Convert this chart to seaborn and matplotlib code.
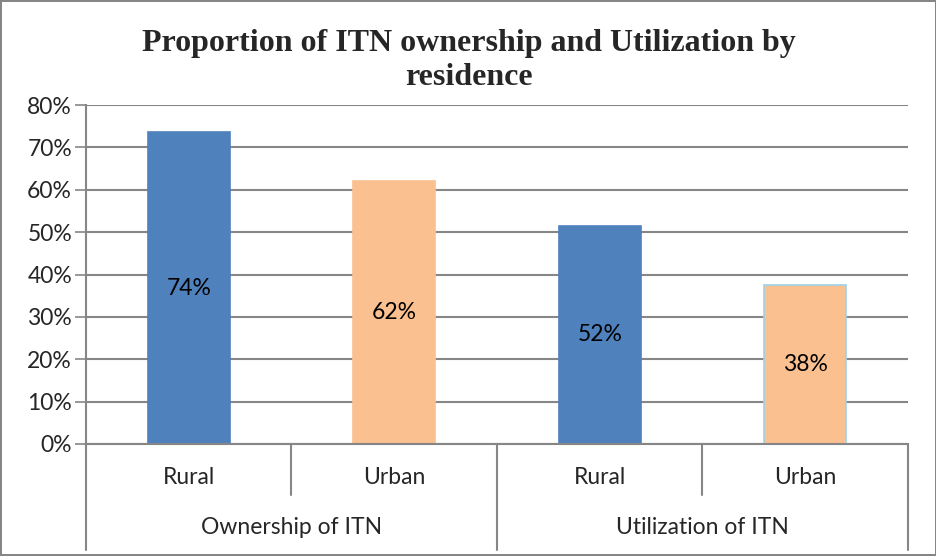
import numpy as np
import pandas as pd
import seaborn as sns
import matplotlib.pyplot as plt
import matplotlib.transforms as mtransforms

# chart data
groups = ["Ownership of ITN", "Ownership of ITN", "Utilization of ITN", "Utilization of ITN"]
residence = ["Rural", "Urban", "Rural", "Urban"]
proportion = [0.736, 0.620, 0.515, 0.375]
bar_labels = ["74%", "62%", "52%", "38%"]
y_ticks = [0.0, 0.1, 0.2, 0.3, 0.4, 0.5, 0.6, 0.7, 0.8]

df = pd.DataFrame({"group": groups, "residence": residence, "value": proportion})
df["key"] = df["group"] + "|" + df["residence"]

sns.set_theme(style="white")
plt.rcParams["font.family"] = ["Lato", "DejaVu Sans"]
FS = 16.5

fig = plt.figure(figsize=(9.37, 5.56), dpi=100)
fig.patch.set_edgecolor("#868686")
fig.patch.set_linewidth(1.5)
ax = fig.add_axes([86 / 937, 1 - 444 / 556, (908 - 86) / 937, (444 - 105) / 556])

palette = {"Rural": "#4F81BD", "Urban": "#FAC090"}
sns.barplot(data=df, x="key", y="value", hue="residence", palette=palette,
            order=list(df["key"]), width=0.4, dodge=False, legend=False,
            saturation=1, ax=ax)

# edge colour per bar, matched by bar position
edges = ["#4F81BD", "#FAC090", "#4F81BD", "#9DD3E8"]
for patch in ax.patches:
    i = int(round(patch.get_x() + patch.get_width() / 2))
    patch.set_edgecolor(edges[i])
    patch.set_linewidth(1.2)

for i, (v, lab) in enumerate(zip(proportion, bar_labels)):
    ax.text(i, v / 2, lab, ha="center", va="center", fontsize=FS, color="black")

ax.set_ylim(0, 0.8)
ax.set_xlim(-0.5, len(df) - 0.5)
ax.set_yticks(y_ticks)
ax.set_yticklabels([f"{int(round(t * 100))}%" for t in y_ticks], fontsize=FS)
ax.yaxis.grid(True, color="#868686", linewidth=1.5)
ax.set_axisbelow(True)
ax.tick_params(axis="y", left=True, length=8, width=1.2, color="#868686", pad=2)
ax.set_xticks([])
ax.set_xlabel("")
ax.set_ylabel("")
for side in ["top", "right"]:
    ax.spines[side].set_visible(False)
for side in ["left", "bottom"]:
    ax.spines[side].set_color("#868686")
    ax.spines[side].set_linewidth(1.5)

# two-level category axis
trans = mtransforms.blended_transform_factory(ax.transData, ax.transAxes)
short_y = (444 - 495) / 339
long_y = (444 - 550) / 339
for xb in [-0.5, 0.5, 1.5, 2.5, 3.5]:
    bottom = short_y if xb in (0.5, 2.5) else long_y
    ax.plot([xb, xb], [0, bottom], transform=trans, color="#868686",
            linewidth=1.5, clip_on=False)

for i, r in enumerate(residence):
    ax.text(i, (444 - 477) / 339, r, transform=trans, ha="center", va="center",
            fontsize=FS)
group_names = list(dict.fromkeys(groups))
for j, g in enumerate(group_names):
    ax.text(2 * j + 0.5, (444 - 528) / 339, g, transform=trans, ha="center",
            va="center", fontsize=FS)

fig.suptitle("Proportion of ITN ownership and Utilization by\nresidence",
             y=1 - 29 / 556, va="top", fontsize=23, fontweight="bold",
             family="Liberation Serif", linespacing=1.22)

fig.savefig("out.png", dpi=100)
